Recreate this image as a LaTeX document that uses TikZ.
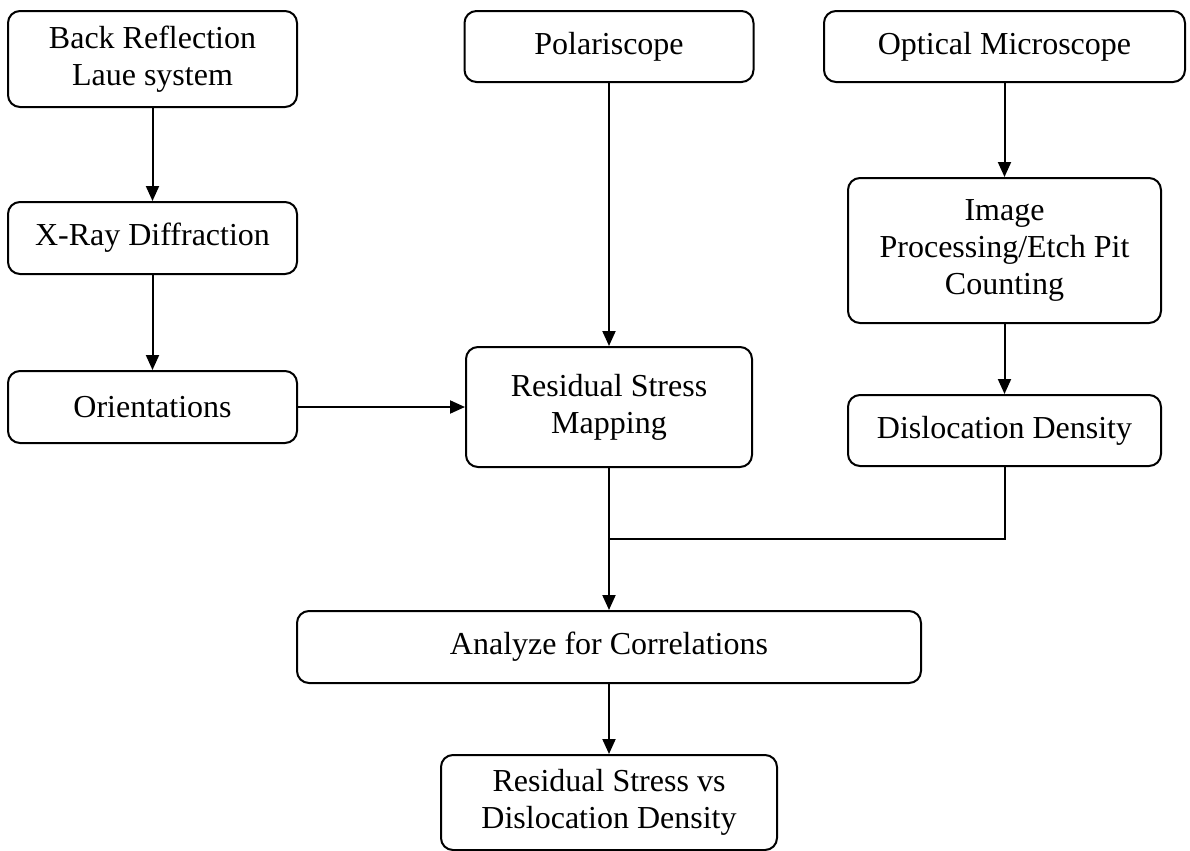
\documentclass[tikz,border=0pt]{standalone}
\usepackage{fontspec}
\setmainfont{Liberation Serif}
\usetikzlibrary{arrows.meta}

\begin{document}
\begin{tikzpicture}
		[x=0.5pt,y=-0.5pt,line cap=round,
		%Styles
		box/.style={draw,line width=1pt,rounded corners=6pt,align=center,inner sep=0pt,
			font=\fontsize{16}{18.5}\selectfont},
		flow line/.style={line width=1pt},
		flow arrow/.style={flow line,-{Triangle[length=7.5pt,width=6.5pt]}}
		]
		
		\useasboundingbox (0,0) rectangle (1190,851);
		
		%Left column
		\node[box,minimum width=144.5pt,minimum height=48pt] (laue) at (152.5,59) {Back Reflection\\Laue system};
		\node[box,minimum width=144.5pt,minimum height=36pt] (xrd) at (152.5,238) {X-Ray Diffraction};
		\node[box,minimum width=144.5pt,minimum height=36pt] (orient) at (152.5,407) {Orientations};
		
		%Middle column
		\node[box,minimum width=144.5pt,minimum height=35.5pt] (polar) at (609,46.5) {Polariscope};
		\node[box,minimum width=143pt,minimum height=60pt] (stress) at (609,407) {Residual Stress\\Mapping};
		
		%Right column
		\node[box,minimum width=180.5pt,minimum height=35.5pt] (micro) at (1004.5,46.5) {Optical Microscope};
		\node[box,minimum width=156.5pt,minimum height=72.5pt] (etch) at (1004.5,250.5) {Image\\Processing/Etch Pit\\Counting};
		\node[box,minimum width=156.5pt,minimum height=35.5pt] (disloc) at (1004.5,430.5) {Dislocation Density};
		
		%Bottom
		\node[box,minimum width=312pt,minimum height=36pt] (corr) at (609,647) {Analyze for Correlations};
		\node[box,minimum width=168pt,minimum height=47.5pt] (result) at (609,802.5) {Residual Stress vs\\Dislocation Density};
		
		\coordinate (join) at (609,539);
		
		%The graphic
		\draw[flow arrow] (laue) -- (xrd);
		\draw[flow arrow] (xrd) -- (orient);
		\draw[flow arrow] (orient) -- (stress);
		\draw[flow arrow] (polar) -- (stress);
		\draw[flow arrow] (micro) -- (etch);
		\draw[flow arrow] (etch) -- (disloc);
		\draw[flow arrow] (stress) -- (corr);
		\draw[flow line] (disloc.south) -- (disloc.south |- join) -- (join);
		\draw[flow arrow] (corr) -- (result);
	\end{tikzpicture}
\end{document}
